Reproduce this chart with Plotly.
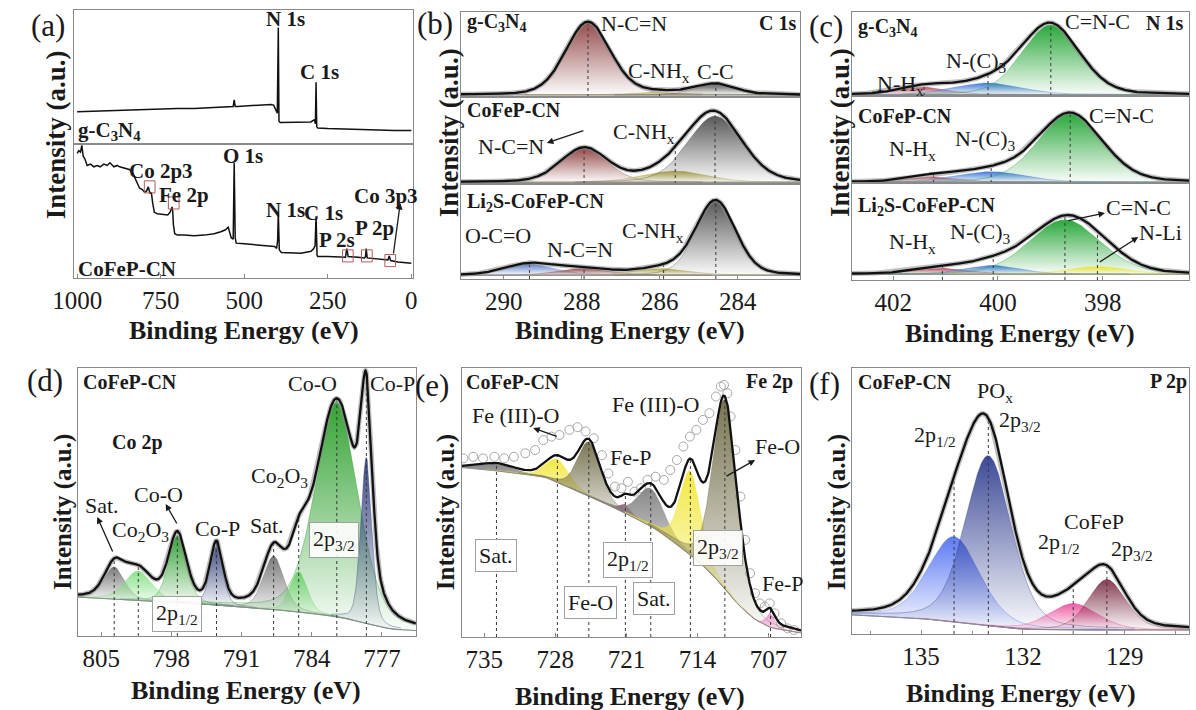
import numpy as np
import plotly.graph_objects as go

W, H = 1196, 710
SERIF = "Liberation Serif, Times New Roman, DejaVu Serif, serif"
INK = "#1a1a1a"
FRAME = "#8a8a8a"

# ---------------- (a) survey spectra ----------------
SURVEY_GCN_E = [1000, 950, 900, 850, 800, 750, 700, 650, 600, 560, 540, 533, 530, 527, 520,
                480, 440, 420, 412, 408, 404, 401, 398, 396, 392, 380, 350, 320, 300, 295,
                290, 287, 285, 283, 280, 250, 200, 150, 100, 50, 0]
SURVEY_GCN_I = [0.24, 0.245, 0.25, 0.255, 0.255, 0.26, 0.265, 0.265, 0.27, 0.275, 0.275, 0.28, 0.33, 0.28, 0.28,
                0.285, 0.29, 0.295, 0.29, 0.27, 0.24, 0.23, 0.87, 0.17, 0.16, 0.16, 0.16, 0.16, 0.165, 0.175,
                0.18, 0.15, 0.46, 0.13, 0.12, 0.115, 0.11, 0.105, 0.105, 0.10, 0.10]
SURVEY_COFEP_E = [1000, 995, 990, 986, 982, 977, 970, 960, 950, 940, 931, 920, 910, 902, 890,
                  880, 873, 860, 850, 844, 835, 827, 820, 813, 805, 798, 792, 787, 782, 778,
                  774, 769, 760, 750, 740, 729, 722, 716, 714, 712, 708, 700, 680, 650, 620,
                  590, 570, 556, 548, 539, 533, 530, 527, 524, 500, 470, 440, 409, 403, 400,
                  398, 395, 389, 360, 330, 300, 292, 288, 285, 282, 280, 250, 220, 197, 193,
                  189, 160, 140, 137, 135, 132, 110, 90, 70, 66, 62, 40, 20, 0]
SURVEY_COFEP_I = [0.93, 0.95, 0.94, 0.99, 0.91, 0.89, 0.84, 0.85, 0.83, 0.84, 0.83, 0.85, 0.84, 0.86, 0.83,
                  0.84, 0.83, 0.82, 0.81, 0.81, 0.79, 0.75, 0.71, 0.67, 0.66, 0.64, 0.65, 0.68, 0.63, 0.64,
                  0.56, 0.49, 0.48, 0.475, 0.47, 0.47, 0.49, 0.53, 0.50, 0.40, 0.33, 0.32, 0.32, 0.315, 0.32,
                  0.33, 0.345, 0.36, 0.38, 0.30, 0.29, 0.86, 0.30, 0.26, 0.255, 0.25, 0.245, 0.235, 0.22, 0.28,
                  0.49, 0.21, 0.19, 0.19, 0.185, 0.20, 0.22, 0.24, 0.46, 0.17, 0.16, 0.16, 0.155, 0.155, 0.22,
                  0.16, 0.155, 0.15, 0.16, 0.22, 0.15, 0.145, 0.14, 0.135, 0.165, 0.13, 0.12, 0.115, 0.11]
SURVEY_MARK_E = [783, 711, 190, 133, 63]          # Co 2p3, Fe 2p, P 2s, P 2p, Co 3p3
SURVEY_MARK_I = [0.68, 0.56, 0.165, 0.165, 0.13]

# ---------------- (b) C 1s ----------------
C1S_RANGE = [291.1, 282.4]
C1S_TICKS = [290, 288, 286, 284]
C1S_GCN_CENTERS = [287.84, 286.0, 284.56]
C1S_GCN_HEIGHTS = [0.86, 0.03, 0.125]
C1S_GCN_FWHM = [1.35, 1.6, 1.2]
C1S_GCN_BG = 0.025
C1S_COFEP_CENTERS = [287.94, 285.6, 284.58]
C1S_COFEP_HEIGHTS = [0.39, 0.13, 0.76]
C1S_COFEP_FWHM = [1.4, 1.9, 1.65]
C1S_COFEP_BG = 0.02
C1S_LI_CENTERS = [289.34, 287.94, 285.9, 284.56]
C1S_LI_HEIGHTS = [0.12, 0.07, 0.07, 0.78]
C1S_LI_FWHM = [1.5, 1.5, 1.6, 1.2]
C1S_LI_BG = 0.04

# ---------------- (c) N 1s ----------------
N1S_RANGE = [402.79, 396.35]
N1S_TICKS = [402, 400, 398]
N1S_GCN_CENTERS = [401.41, 400.19, 398.99]
N1S_GCN_HEIGHTS = [0.09, 0.14, 0.83]
N1S_GCN_FWHM = [1.1, 1.5, 1.3]
N1S_GCN_BG = 0.015
N1S_COFEP_CENTERS = [401.23, 400.13, 398.62]
N1S_COFEP_HEIGHTS = [0.06, 0.12, 0.79]
N1S_COFEP_FWHM = [1.1, 1.5, 1.45]
N1S_COFEP_BG = 0.01
N1S_LI_CENTERS = [401.06, 400.09, 398.72, 398.1]
N1S_LI_HEIGHTS = [0.06, 0.09, 0.56, 0.08]
N1S_LI_FWHM = [1.2, 1.2, 1.6, 1.3]
N1S_LI_BG = 0.06

# ---------------- (d) Co 2p ----------------
CO2P_RANGE = [807.34, 773.61]
CO2P_TICKS = [805, 798, 791, 784, 777]
CO2P_CENTERS = [803.7, 801.3, 797.4, 793.5, 787.8, 785.3, 781.5, 778.55]
CO2P_HEIGHTS = [0.12, 0.11, 0.25, 0.22, 0.20, 0.15, 0.80, 0.62]
CO2P_FWHM = [2.4, 3.2, 2.1, 1.5, 2.4, 2.0, 5.0, 1.3]
CO2P_BG_E = [807.3, 800, 795, 790, 785, 781, 778.5, 776, 773.6]
CO2P_BG_I = [0.145, 0.13, 0.12, 0.105, 0.09, 0.07, 0.045, 0.025, 0.02]

# ---------------- (e) Fe 2p ----------------
FE2P_RANGE = [737.21, 703.8]
FE2P_TICKS = [735, 728, 721, 714, 707]
FE2P_CENTERS = [733.8, 727.8, 724.7, 721.1, 718.6, 714.7, 711.3, 706.8]
FE2P_HEIGHTS = [0.025, 0.085, 0.20, 0.03, 0.14, 0.31, 0.70, 0.05]
FE2P_FWHM = [4.0, 2.6, 2.6, 1.2, 3.0, 2.4, 2.8, 1.0]
FE2P_BG_E = [737.2, 733, 729, 725, 721, 718, 714.8, 713, 711.5, 710, 708.3, 706.7, 703.8]
FE2P_BG_I = [0.63, 0.615, 0.595, 0.53, 0.46, 0.40, 0.31, 0.25, 0.19, 0.12, 0.063, 0.033, 0.015]
FE2P_DATA_E = [737.05, 736.09, 735.12, 734.0, 733.04, 732.08, 730.96, 729.99, 729.19, 728.38,
               727.59, 726.62, 725.82, 725.02, 724.22, 723.41, 722.77, 722.13, 721.49, 720.85,
               720.2, 719.56, 718.92, 718.12, 717.31, 716.68, 716.03, 715.39, 714.75, 714.11,
               713.46, 712.82, 712.18, 711.70, 711.38, 711.05, 710.74, 710.26, 709.77, 709.29,
               708.81, 708.33, 707.85, 707.37, 706.89, 706.41, 705.76, 705.12, 704.48]
FE2P_DATA_I = [0.664, 0.670, 0.664, 0.670, 0.664, 0.670, 0.683, 0.695, 0.732, 0.745,
               0.751, 0.770, 0.780, 0.764, 0.739, 0.676, 0.608, 0.559, 0.553, 0.577,
               0.540, 0.553, 0.584, 0.596, 0.584, 0.621, 0.658, 0.708, 0.745, 0.770,
               0.807, 0.832, 0.894, 0.931, 0.937, 0.906, 0.820, 0.695, 0.522, 0.361,
               0.237, 0.163, 0.125, 0.113, 0.125, 0.088, 0.051, 0.032, 0.026]

# ---------------- (f) P 2p ----------------
P2P_RANGE = [137.04, 127.11]
P2P_TICKS = [135, 132, 129]
P2P_CENTERS = [134.03, 133.02, 130.52, 129.53]
P2P_HEIGHTS = [0.32, 0.64, 0.10, 0.19]
P2P_FWHM = [1.8, 1.6, 1.7, 1.3]
P2P_BG_E = [137.04, 135, 134, 133, 132, 131, 127.1]
P2P_BG_I = [0.072, 0.058, 0.046, 0.03, 0.018, 0.015, 0.015]

# component colours
NCN, CNHX, CC, OCO = "#8c3b3b", "#a9a23a", "#4a4a4a", "#4f73c4"
NHX, NC3, CNC, NLI = "#b2404f", "#2f6fd8", "#17a02a", "#ece21e"
CO_SAT, CO2O3, COO, COP = "#6e6e6e", "#7fe07f", "#239b23", "#2b3a78"
FE_SAT, FE3O, FEO, FEP1, FEP2 = "#7d7d7d", "#f2e633", "#6d6842", "#8e2452", "#e36fb5"
POX1, POX2, CFP1, CFP2 = "#4d6ef2", "#2c3a8e", "#ea4f9b", "#7a2a42"

fig = go.Figure()
layout_axes = {}
ann = []
shapes = []


def refs(n):
    return ("x" if n == 1 else f"x{n}"), ("y" if n == 1 else f"y{n}")


def rgba(hexcol, a):
    h = hexcol.lstrip("#")
    return f"rgba({int(h[0:2], 16)},{int(h[2:4], 16)},{int(h[4:6], 16)},{a})"


def set_axes(n, xpx, ypx, xrange, ticks=None, minor=None):
    xn = "xaxis" if n == 1 else f"xaxis{n}"
    yn = "yaxis" if n == 1 else f"yaxis{n}"
    xr, yr = refs(n)
    xa = dict(domain=[xpx[0] / W, xpx[1] / W], range=xrange, anchor=yr,
              showline=True, mirror=True, linecolor=FRAME, linewidth=1.3,
              showgrid=False, zeroline=False, fixedrange=True)
    if ticks:
        xa.update(tickvals=ticks, ticks="inside", ticklen=4, tickcolor=FRAME,
                  tickfont=dict(family=SERIF, size=25, color=INK))
    else:
        xa.update(showticklabels=False, ticks="")
    if minor:
        xa["minor"] = dict(tickvals=minor, ticks="inside", ticklen=3, tickcolor=FRAME)
    layout_axes[xn] = xa
    layout_axes[yn] = dict(domain=[1 - ypx[1] / H, 1 - ypx[0] / H], range=[0, 1], anchor=xr,
                           showline=True, mirror=True, linecolor=FRAME, linewidth=1.3,
                           showgrid=False, zeroline=False, showticklabels=False, ticks="",
                           fixedrange=True)


def pv(e, c, h, w, m):
    d2 = ((e - c) / w) ** 2
    return h * ((1 - m) * np.exp(-4 * np.log(2) * d2) + m / (1 + 4 * d2))


def draw_fit(n, erange, bg_e, bg_i, centers, heights, fwhm, colors, mix, halo=True):
    xr, yr = refs(n)
    e = np.linspace(min(erange), max(erange), 800)
    bg_e = np.asarray(bg_e, float)
    bg_i = np.asarray(bg_i, float)
    order = np.argsort(bg_e)
    bg = np.interp(e, bg_e[order], bg_i[order])
    comps = [pv(e, c, h, w, mix) for c, h, w in zip(centers, heights, fwhm)]
    env = bg + np.sum(comps, axis=0)
    for comp, col, h in zip(comps, colors, heights):
        m = comp > 0.01 * h
        ex, top, base = e[m], (bg + comp)[m], bg[m]
        fig.add_trace(go.Scatter(
            x=np.concatenate([ex, ex[::-1]]), y=np.concatenate([top, base[::-1]]),
            mode="lines", fill="toself",
            fillgradient=dict(type="vertical",
                              colorscale=[[0, rgba(col, 0.02)], [1, rgba(col, 0.92)]],
                              start=float(base.min()), stop=float(top.max())),
            line=dict(color=rgba(col, 0.45), width=0.8),
            xaxis=xr, yaxis=yr, hoverinfo="skip", showlegend=False))
    fig.add_trace(go.Scatter(x=e, y=bg, mode="lines", line=dict(color="#8c8c8c", width=1),
                             xaxis=xr, yaxis=yr, hoverinfo="skip", showlegend=False))
    env_c = np.interp(centers, e, env)
    for c, top in zip(centers, env_c):
        fig.add_trace(go.Scatter(x=[c, c], y=[0, top], mode="lines",
                                 line=dict(color="#3a3a3a", width=1, dash="3px,3px"),
                                 xaxis=xr, yaxis=yr, hoverinfo="skip", showlegend=False))
    if halo:
        fig.add_trace(go.Scatter(x=e, y=env, mode="lines",
                                 line=dict(color="rgba(140,140,140,0.55)", width=5),
                                 xaxis=xr, yaxis=yr, hoverinfo="skip", showlegend=False))
    fig.add_trace(go.Scatter(x=e, y=env, mode="lines", line=dict(color="#111111", width=2.3),
                             xaxis=xr, yaxis=yr, hoverinfo="skip", showlegend=False))


def P(px, py):
    return px / W, 1 - py / H


def note(px, py, text, size=22, bold=False, anchor="center"):
    x, y = P(px, py)
    ann.append(dict(x=x, y=y, xref="paper", yref="paper", showarrow=False,
                    text=text, xanchor=anchor, yanchor="middle",
                    font=dict(family=SERIF, size=size, color=INK,
                              weight="bold" if bold else "normal")))


def boxed(px, py, text, size=22):
    x, y = P(px, py)
    ann.append(dict(x=x, y=y, xref="paper", yref="paper", showarrow=False, text=text,
                    xanchor="center", yanchor="middle", bordercolor="#a0a0a0", borderwidth=1,
                    borderpad=3, bgcolor="rgba(255,255,255,0.9)",
                    font=dict(family=SERIF, size=size, color=INK)))


def arrow(tip, tail):
    x, y = P(*tip)
    ann.append(dict(x=x, y=y, xref="paper", yref="paper", text="", showarrow=True,
                    ax=tail[0] - tip[0], ay=tail[1] - tip[1], axref="pixel", ayref="pixel",
                    arrowhead=2, arrowsize=1, arrowwidth=1.3, arrowcolor=INK))


def vtitle(px, py, text, size):
    x, y = P(px, py)
    ann.append(dict(x=x, y=y, xref="paper", yref="paper", showarrow=False, textangle=-90,
                    text=text, xanchor="center", yanchor="middle",
                    font=dict(family=SERIF, size=size, color=INK, weight="bold")))


# ---------- axes layout (pixel frames) ----------
set_axes(1, (53, 400), (10, 144), [1010, -5])
set_axes(2, (53, 400), (144, 278), [1010, -5], ticks=[1000, 750, 500, 250, 0])
set_axes(3, (449, 796), (12, 97), C1S_RANGE)
set_axes(4, (449, 796), (97, 184), C1S_RANGE)
set_axes(5, (449, 796), (184, 279), C1S_RANGE, ticks=C1S_TICKS)
set_axes(6, (849, 1194), (12, 96), N1S_RANGE)
set_axes(7, (849, 1194), (96, 183), N1S_RANGE)
set_axes(8, (849, 1194), (183, 280), N1S_RANGE, ticks=N1S_TICKS)
set_axes(9, (57, 403), (368, 636), CO2P_RANGE, ticks=CO2P_TICKS)
set_axes(10, (450, 797), (368, 637), FE2P_RANGE, ticks=FE2P_TICKS)
set_axes(11, (849, 1194), (368, 634), P2P_RANGE, ticks=P2P_TICKS, minor=[136.5, 133.5, 130.5, 127.5])

# ---------- (a) ----------
fig.add_trace(go.Scatter(x=SURVEY_GCN_E, y=SURVEY_GCN_I, mode="lines",
                         line=dict(color="#111111", width=1.5), xaxis="x", yaxis="y",
                         hoverinfo="skip", showlegend=False))
fig.add_trace(go.Scatter(x=SURVEY_COFEP_E, y=SURVEY_COFEP_I, mode="lines",
                         line=dict(color="#111111", width=1.5), xaxis="x2", yaxis="y2",
                         hoverinfo="skip", showlegend=False))
for me, mi in zip(SURVEY_MARK_E, SURVEY_MARK_I):
    shapes.append(dict(type="rect", xref="x2", yref="y2", x0=me + 16, x1=me - 16,
                       y0=mi - 0.045, y1=mi + 0.045, line=dict(color="#b35a5a", width=1)))

# ---------- (b) ----------
draw_fit(3, C1S_RANGE, C1S_RANGE, [C1S_GCN_BG] * 2, C1S_GCN_CENTERS, C1S_GCN_HEIGHTS,
         C1S_GCN_FWHM, [NCN, CNHX, CC], 0.2)
draw_fit(4, C1S_RANGE, C1S_RANGE, [C1S_COFEP_BG] * 2, C1S_COFEP_CENTERS, C1S_COFEP_HEIGHTS,
         C1S_COFEP_FWHM, [NCN, CNHX, CC], 0.2)
draw_fit(5, C1S_RANGE, C1S_RANGE, [C1S_LI_BG] * 2, C1S_LI_CENTERS, C1S_LI_HEIGHTS,
         C1S_LI_FWHM, [OCO, NCN, CNHX, CC], 0.2)

# ---------- (c) ----------
draw_fit(6, N1S_RANGE, N1S_RANGE, [N1S_GCN_BG] * 2, N1S_GCN_CENTERS, N1S_GCN_HEIGHTS,
         N1S_GCN_FWHM, [NHX, NC3, CNC], 0.2)
draw_fit(7, N1S_RANGE, N1S_RANGE, [N1S_COFEP_BG] * 2, N1S_COFEP_CENTERS, N1S_COFEP_HEIGHTS,
         N1S_COFEP_FWHM, [NHX, NC3, CNC], 0.2)
draw_fit(8, N1S_RANGE, N1S_RANGE, [N1S_LI_BG] * 2, N1S_LI_CENTERS, N1S_LI_HEIGHTS,
         N1S_LI_FWHM, [NHX, NC3, CNC, NLI], 0.2)

# ---------- (d) ----------
draw_fit(9, CO2P_RANGE, CO2P_BG_E, CO2P_BG_I, CO2P_CENTERS, CO2P_HEIGHTS, CO2P_FWHM,
         [CO_SAT, CO2O3, COO, COP, CO_SAT, CO2O3, COO, COP], 0.3)

# ---------- (e) ----------
fig.add_trace(go.Scatter(x=FE2P_DATA_E, y=FE2P_DATA_I, mode="markers",
                         marker=dict(symbol="circle-open", size=9, color="#a8a8a8",
                                     line=dict(width=1)),
                         xaxis="x10", yaxis="y10", hoverinfo="skip", showlegend=False))
draw_fit(10, FE2P_RANGE, FE2P_BG_E, FE2P_BG_I, FE2P_CENTERS, FE2P_HEIGHTS, FE2P_FWHM,
         [FE_SAT, FE3O, FEO, FEP1, FE_SAT, FE3O, FEO, FEP2], 0.3, halo=False)

# ---------- (f) ----------
draw_fit(11, P2P_RANGE, P2P_BG_E, P2P_BG_I, P2P_CENTERS, P2P_HEIGHTS, P2P_FWHM,
         [POX1, POX2, CFP1, CFP2], 0.3)

# ---------- text ----------
for px, py, t in [(27, 26, "(a)"), (423, 24, "(b)"), (823, 27, "(c)"),
                  (24, 381, "(d)"), (419, 385, "(e)"), (821, 384, "(f)")]:
    note(px, py, t, size=31)

for px, py in [(227, 330), (622, 330), (1021, 333), (229, 690), (622, 696), (1022, 693)]:
    note(px, py, "Binding Energy (eV)", size=26, bold=True)
for px, py in [(35, 135), (437, 133), (837, 133)]:
    vtitle(px, py, "Intensity (a.u.)", 27)
for px, py in [(42, 512), (434, 512), (834, 512)]:
    vtitle(px, py, "Intensity (a.u.)", 25)

# (a)
note(270, 19, "N 1s", size=21, bold=True)
note(304, 72, "C 1s", size=21, bold=True)
note(55, 131, "g-C<sub>3</sub>N<sub>4</sub>", size=21, bold=True, anchor="left")
note(226, 156, "O 1s", size=21, bold=True)
note(142, 171, "Co 2p3", size=21, bold=True)
note(166, 195, "Fe 2p", size=21, bold=True)
note(270, 210, "N 1s", size=21, bold=True)
note(308, 213, "C 1s", size=21, bold=True)
note(322, 240, "P 2s", size=21, bold=True)
note(361, 228, "P 2p", size=21, bold=True)
note(372, 196, "Co 3p3", size=21, bold=True)
note(55, 269, "CoFeP-CN", size=21, bold=True, anchor="left")
arrow((387, 203), (380, 255))

# (b)
note(453, 23, "g-C<sub>3</sub>N<sub>4</sub>", size=20, bold=True, anchor="left")
note(794, 23, "C 1s", size=20, bold=True, anchor="right")
note(626, 24, "N-C=N")
note(618, 72, "C-NH<sub>x</sub>", anchor="left")
note(710, 72, "C-C")
note(453, 110, "CoFeP-CN", size=20, bold=True, anchor="left")
note(603, 133, "C-NH<sub>x</sub>", anchor="left")
note(500, 147, "N-C=N")
arrow((537, 143), (575, 130))
note(453, 202, "Li<sub>2</sub>S-CoFeP-CN", size=20, bold=True, anchor="left")
note(487, 235, "O-C=O")
note(571, 250, "N-C=N")
note(612, 232, "C-NH<sub>x</sub>", anchor="left")

# (c)
note(853, 28, "g-C<sub>3</sub>N<sub>4</sub>", size=20, bold=True, anchor="left")
note(1190, 23, "N 1s", size=20, bold=True, anchor="right")
note(1100, 22, "C=N-C")
note(873, 85, "N-H<sub>x</sub>", anchor="left")
note(943, 62, "N-(C)<sub>3</sub>", anchor="left")
note(853, 116, "CoFeP-CN", size=20, bold=True, anchor="left")
note(1125, 115, "C=N-C")
note(952, 140, "N-(C)<sub>3</sub>", anchor="left")
note(885, 150, "N-H<sub>x</sub>", anchor="left")
note(853, 206, "Li<sub>2</sub>S-CoFeP-CN", size=20, bold=True, anchor="left")
note(1142, 207, "C=N-C")
arrow((1108, 213), (1070, 221))
note(1165, 232, "N-Li")
arrow((1142, 237), (1102, 263))
note(947, 233, "N-(C)<sub>3</sub>", anchor="left")
note(885, 243, "N-H<sub>x</sub>", anchor="left")

# (d)
note(60, 382, "CoFeP-CN", size=20, bold=True, anchor="left")
note(90, 443, "Co 2p", size=20, bold=True, anchor="left")
note(62, 505, "Sat.", anchor="left")
arrow((77, 517), (93, 553))
note(90, 531, "Co<sub>2</sub>O<sub>3</sub>", anchor="left")
note(140, 495, "Co-O")
arrow((147, 504), (159, 525))
note(200, 528, "Co-P")
note(251, 525, "Sat.")
note(232, 477, "Co<sub>2</sub>O<sub>3</sub>", anchor="left")
note(297, 384, "Co-O")
note(354, 384, "Co-P", anchor="left")
boxed(159, 614, "2p<sub>1/2</sub>")
boxed(319, 540, "2p<sub>3/2</sub>")

# (e)
note(452, 382, "CoFeP-CN", size=20, bold=True, anchor="left")
note(791, 382, "Fe 2p", size=20, bold=True, anchor="right")
note(458, 415, "Fe (III)-O", anchor="left")
arrow((523, 428), (548, 437))
note(602, 404, "Fe (III)-O", anchor="left")
note(600, 457, "Fe-P", anchor="left")
note(748, 446, "Fe-O", anchor="left")
arrow((750, 460), (720, 477))
note(755, 583, "Fe-P", anchor="left")
boxed(485, 555, "Sat.")
boxed(582, 602, "Fe-O")
boxed(620, 560, "2p<sub>1/2</sub>")
boxed(647, 598, "Sat.")
boxed(712, 548, "2p<sub>3/2</sub>")

# (f)
note(853, 382, "CoFeP-CN", size=20, bold=True, anchor="left")
note(1194, 382, "P 2p", size=20, bold=True, anchor="right")
note(995, 392, "PO<sub>x</sub>")
note(1021, 421, "2p<sub>3/2</sub>")
note(934, 436, "2p<sub>1/2</sub>")
note(1097, 521, "CoFeP")
note(1061, 543, "2p<sub>1/2</sub>")
note(1136, 550, "2p<sub>3/2</sub>")

fig.update_layout(width=W, height=H, margin=dict(l=0, r=0, t=0, b=0),
                  paper_bgcolor="white", plot_bgcolor="white", showlegend=False,
                  font=dict(family=SERIF, color=INK),
                  annotations=ann, shapes=shapes, **layout_axes)
fig.write_html("out.html")
